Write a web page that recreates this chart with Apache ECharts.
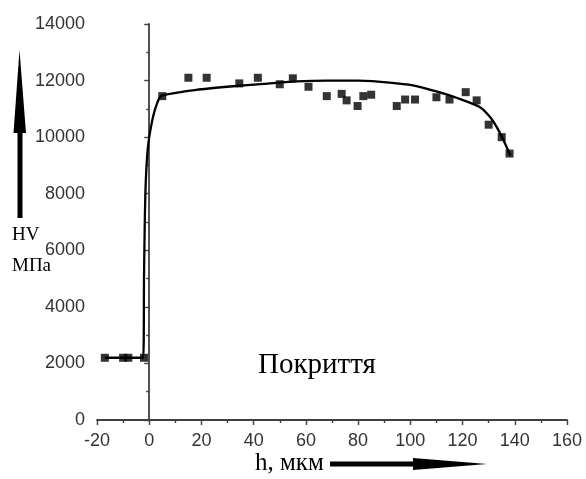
<!DOCTYPE html>
<html>
<head>
<meta charset="utf-8">
<script src="https://cdn.jsdelivr.net/npm/echarts@6/dist/echarts.min.js"></script>
<style>html,body{margin:0;padding:0;background:#fff}#c{width:586px;height:479px}</style>
</head>
<body>
<div id="c"></div>
<script>
// measured points (h, мкм ; HV, МПа)
var pointH  = [-17, -10, -8, -2, 5, 15, 22, 34.5, 41.6, 50, 55, 61, 68, 73.7, 75.6, 79.8, 82, 85, 94.8, 98, 101.8, 110, 115, 121.2, 125.4, 130, 135, 138];
var pointHV = [2200, 2200, 2200, 2200, 11450, 12100, 12100, 11900, 12100, 11870, 12080, 11780, 11450, 11530, 11300, 11100, 11450, 11500, 11100, 11330, 11330, 11410, 11330, 11590, 11300, 10440, 10000, 9420];
// fitted curve
var curveH  = [-17, -2.3, -2.0, -1.7, -1.3, -0.5, 0.9, 2.5, 4.5, 18, 31, 44, 56.5, 68, 80, 92, 101, 111, 119, 126.7, 130.6, 133.8, 136.3, 138.3];
var curveHV = [2200, 2200, 5000, 7000, 8470, 9650, 10470, 11060, 11450, 11670, 11790, 11880, 11970, 12000, 11995, 11930, 11830, 11590, 11350, 11060, 10700, 10240, 9770, 9350];
var xTicks = {min: -20, max: 160, step: 20};
var yTicks = {min: 0, max: 14000, step: 2000};

var pts = pointH.map(function (h, i) { return [h, pointHV[i]]; });
var crv = curveH.map(function (h, i) { return [h, curveHV[i]]; });

var chart = echarts.init(document.getElementById('c'), null, {renderer: 'canvas'});
var axisCol = '#404040';
chart.setOption({
  animation: false,
  backgroundColor: '#fff',
  grid: {left: 97, right: 19, top: 24, bottom: 59, containLabel: false},
  xAxis: {
    type: 'value', min: xTicks.min, max: xTicks.max, interval: xTicks.step,
    axisLine: {show: true, lineStyle: {color: axisCol, width: 1.8}},
    axisTick: {show: true, inside: false, length: 5, lineStyle: {color: axisCol, width: 1.4}},
    minorTick: {show: true, splitNumber: 2, length: 3, lineStyle: {color: axisCol, width: 1.4}},
    axisLabel: {color: '#333', fontFamily: 'Liberation Sans', fontSize: 18, margin: 12,
      formatter: function (v) { return String(v); }},
    splitLine: {show: false}
  },
  yAxis: {
    type: 'value', min: yTicks.min, max: yTicks.max, interval: yTicks.step,
    axisLine: {show: true, lineStyle: {color: axisCol, width: 1.8}},
    axisTick: {show: true, inside: false, length: 5, lineStyle: {color: axisCol, width: 1.4}},
    minorTick: {show: true, splitNumber: 2, length: 3, lineStyle: {color: axisCol, width: 1.4}},
    axisLabel: {color: '#333', fontFamily: 'Liberation Sans', fontSize: 18, margin: 12,
      formatter: function (v) { return String(v); }},
    splitLine: {show: false}
  },
  series: [
    {type: 'line', data: crv, showSymbol: false, smooth: 0.2, lineStyle: {color: '#000', width: 2.3}, z: 2},
    {type: 'scatter', data: pts, symbol: 'rect', symbolSize: 8, itemStyle: {color: '#000'}, z: 3}
  ],
  graphic: [
    {type: 'text', left: 258, top: 351, style: {text: 'Покриття', font: '29px "Liberation Serif"', fill: '#000'}},
    {type: 'text', left: 12, top: 226, style: {text: 'HV', font: '19px "Liberation Serif"', fill: '#000'}},
    {type: 'text', left: 12, top: 257, style: {text: 'МПа', font: '19px "Liberation Serif"', fill: '#000'}},
    {type: 'text', left: 255, top: 451, style: {text: 'h, мкм', font: '25px "Liberation Serif"', fill: '#000'}},
    {type: 'polygon', shape: {points: [[17.5, 133], [22.5, 133], [22.5, 218], [17.5, 218]]}, style: {fill: '#000'}},
    {type: 'polygon', shape: {points: [[19.5, 50], [26, 133], [13.5, 133]]}, style: {fill: '#000'}},
    {type: 'polygon', shape: {points: [[330, 461.5], [413, 461.5], [413, 466.5], [330, 466.5]]}, style: {fill: '#000'}},
    {type: 'polygon', shape: {points: [[413, 458], [487, 464], [413, 470]]}, style: {fill: '#000'}}
  ]
});
</script>
</body>
</html>
